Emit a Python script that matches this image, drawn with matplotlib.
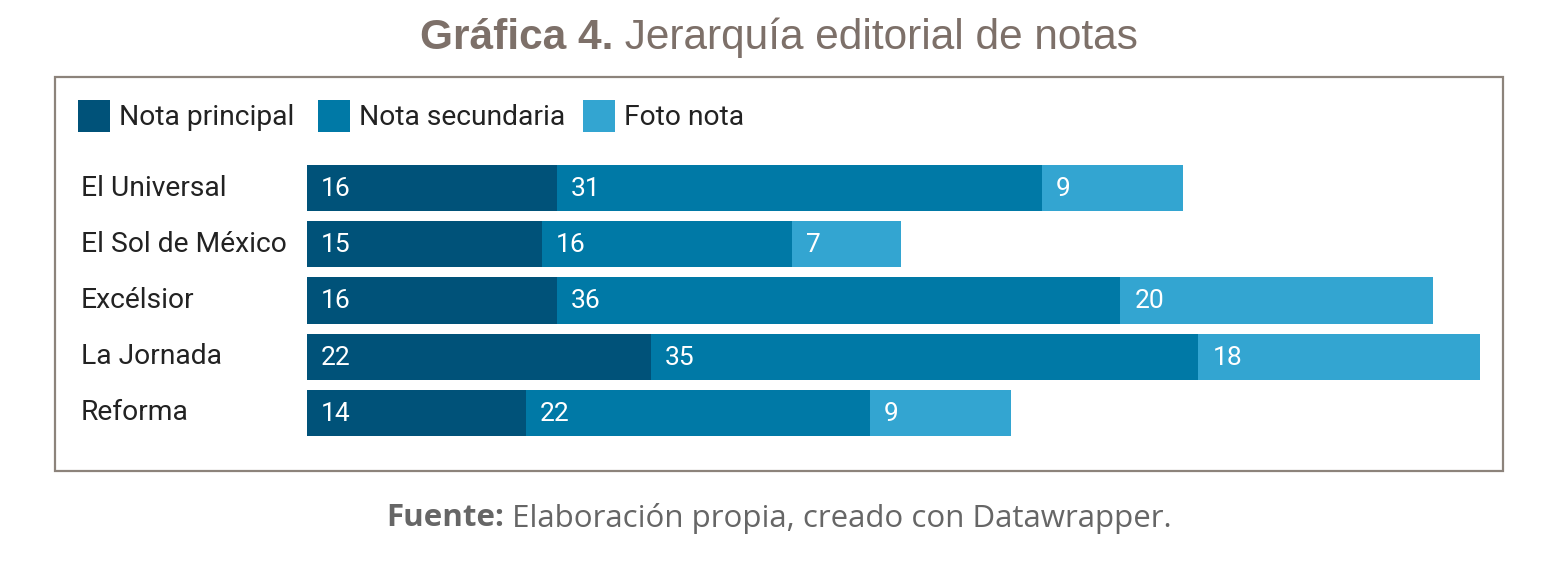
import matplotlib
matplotlib.use("Agg")
import matplotlib.pyplot as plt
from matplotlib.patches import Rectangle
from matplotlib.transforms import blended_transform_factory

W, H = 1558, 563
DPI = 100

categories = ["El Universal", "El Sol de México", "Excélsior", "La Jornada", "Reforma"]
series_names = ["Nota principal", "Nota secundaria", "Foto nota"]
nota_principal = [16, 15, 16, 22, 14]
nota_secundaria = [31, 16, 36, 35, 22]
foto_nota = [9, 7, 20, 18, 9]
colors = ["#005279", "#0079a6", "#33a5d1"]

fig = plt.figure(figsize=(W / DPI, H / DPI), dpi=DPI)
fig.patch.set_facecolor("white")

def fx(px):
    return px / W

def fy(py):
    return 1 - py / H

# frame
fig.patches.append(Rectangle((fx(55), fy(471)), fx(1503) - fx(55), fy(77) - fy(471),
                             transform=fig.transFigure, fill=False,
                             edgecolor="#8c837b", linewidth=1.6, zorder=0))

# axes in pixel coordinates
left, right, top, bottom = 307, 1480, 150, 450
ax = fig.add_axes([fx(left), fy(bottom), fx(right) - fx(left), fy(top) - fy(bottom)])
ax.set_xlim(0, 75)
row_px = 56.25
y0_px = 188
ax.set_ylim(4 + (bottom - (y0_px + 4 * row_px)) / row_px, -(y0_px - top) / row_px)
ax.axis("off")

fig.canvas.draw()
renderer = fig.canvas.get_renderer()

lefts = [0] * len(categories)
roboto = ["Roboto", "DejaVu Sans"]
for vals, col in zip([nota_principal, nota_secundaria, foto_nota], colors):
    ax.barh(range(len(categories)), vals, left=lefts, height=0.82, color=col, linewidth=0)
    for i, (l, v) in enumerate(zip(lefts, vals)):
        ax.annotate(str(v), xy=(l, i), xytext=(14, -1), textcoords="offset pixels",
                    ha="left", va="center", color="white", family=roboto, fontsize=19)
    lefts = [a + b for a, b in zip(lefts, vals)]

trans = blended_transform_factory(fig.transFigure, ax.transData)
for i, c in enumerate(categories):
    ax.text(fx(81), i, c, transform=trans, ha="left", va="center",
            color="#222222", clip_on=False, family=roboto, fontsize=20.3)

# legend
leg_x = [78, 318, 583]
for xpx, name, col in zip(leg_x, series_names, colors):
    fig.patches.append(Rectangle((fx(xpx), fy(132)), fx(32), 32 / H,
                                 transform=fig.transFigure, facecolor=col,
                                 edgecolor="none"))
    fig.text(fx(xpx + 41), fy(117), name, ha="left", va="center",
             color="#222222", family=roboto, fontsize=20.3)

def text_width(t):
    bb = t.get_window_extent(renderer=renderer)
    return bb.width

# title
title_color = "#7d7069"
tfont = ["Liberation Sans", "DejaVu Sans"]
t1 = fig.text(0, fy(38), "Gráfica 4.", ha="left", va="center", fontsize=30.5,
              fontweight="bold", color=title_color, family=tfont)
t2 = fig.text(0, fy(38), " Jerarquía editorial de notas", ha="left", va="center",
              fontsize=30.5, color=title_color, family=tfont)
w1, w2 = text_width(t1), text_width(t2)
start = 779 - (w1 + w2) / 2
t1.set_x(fx(start))
t2.set_x(fx(start + w1))

# footer
ffont = ["Open Sans", "DejaVu Sans"]
f1 = fig.text(0, fy(518), "Fuente:", ha="left", va="center", fontsize=22.5,
              fontweight="bold", color="#666666", family=ffont)
f2 = fig.text(0, fy(518), " Elaboración propia, creado con Datawrapper.", ha="left",
              va="center", fontsize=22.5, color="#666666", family=ffont)
w1, w2 = text_width(f1), text_width(f2)
start = 779 - (w1 + w2) / 2
f1.set_x(fx(start))
f2.set_x(fx(start + w1))

fig.savefig("out.png", dpi=DPI, facecolor="white")
